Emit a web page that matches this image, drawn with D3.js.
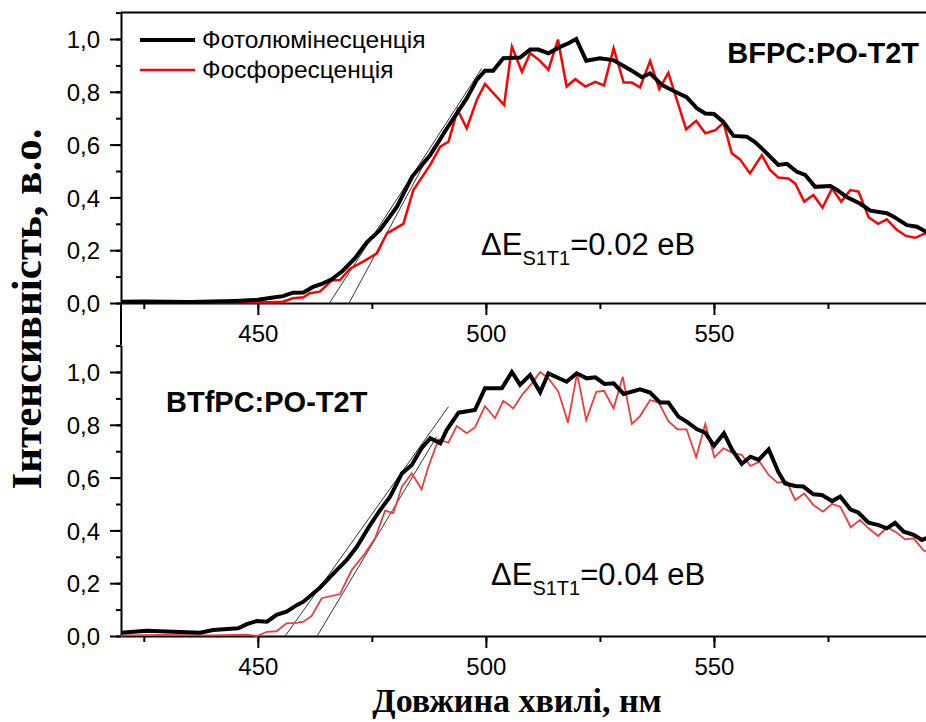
<!DOCTYPE html>
<html>
<head>
<meta charset="utf-8">
<script src="https://cdn.jsdelivr.net/npm/d3@7"></script>
<style>
  body { margin: 0; background: #fff; }
  svg { display: block; }
</style>
</head>
<body>
<div id="graph"></div>
<script>
// wavelength axis (nm)
const wavelengthDomain = [420, 600];
const wavelengthTicks = [425, 450, 475, 500, 525, 550, 575];
const wavelengthLabels = [450, 500, 550];

// intensity axis (a.u.)
const intensityDomain = [0, 1.1];
const intensityTicks = [0, 0.1, 0.2, 0.3, 0.4, 0.5, 0.6, 0.7, 0.8, 0.9, 1.0, 1.1];
const intensityLabels = [0, 0.2, 0.4, 0.6, 0.8, 1.0];

const seriesNames = ["Фотолюмінесценція", "Фосфоресценція"];
const panelTitles = ["BFPC:PO-T2T", "BTfPC:PO-T2T"];
const deltaValues = ["0.02", "0.04"];

// BFPC:PO-T2T, [nm, intensity]
const bfpcPL = [[420,0.005],[425,0.006],[430,0.005],[435,0.004],[440,0.006],[445,0.008],[448,0.01],[450,0.012],[453,0.02],[455.5,0.026],[457.7,0.039],[460,0.04],[462,0.06],[464,0.072],[466.2,0.09],[468.5,0.12],[471.3,0.17],[473.9,0.23],[476.8,0.277],[480.5,0.365],[483.8,0.478],[487.8,0.56],[491.4,0.66],[495.8,0.775],[498,0.845],[499.8,0.88],[501.6,0.88],[503.8,0.927],[507.5,0.93],[509.7,0.96],[511.5,0.96],[513.7,0.946],[516.3,0.97],[518.1,0.984],[519.8,1.0],[522,0.918],[525,0.927],[527.9,0.92],[530,0.9],[532,0.88],[534.2,0.855],[536,0.87],[538.6,0.826],[541.5,0.8],[544,0.78],[546.3,0.737],[548.1,0.718],[550,0.716],[552,0.687],[554.3,0.633],[557.2,0.63],[559,0.61],[561.6,0.567],[564.1,0.523],[566,0.527],[568.2,0.497],[570,0.485],[572.2,0.44],[575.5,0.443],[577,0.428],[579.2,0.4],[582,0.377],[584.3,0.35],[587.9,0.34],[589.4,0.327],[592.3,0.295],[594.5,0.289],[596.5,0.27],[600,0.25]];
const bfpcPhos = [[420,0.003],[425,0.005],[430,0.004],[435,0.006],[440,0.003],[445,0.004],[450,0.003],[453,0.003],[455.5,0.005],[457.7,0.018],[460,0.022],[461.4,0.037],[463.6,0.043],[466.2,0.085],[468,0.087],[470.2,0.13],[473.1,0.157],[476.1,0.188],[478.3,0.264],[481.9,0.3],[484.1,0.428],[487.8,0.523],[490,0.592],[491.8,0.611],[493.8,0.731],[495.8,0.662],[498,0.769],[499.8,0.83],[504,0.75],[505.7,0.971],[507.9,0.876],[509.7,0.946],[511.7,0.92],[513.7,0.883],[515.8,0.998],[517.7,0.82],[519.6,0.848],[521.8,0.82],[524,0.838],[525.9,0.824],[528,0.965],[530.2,0.835],[532,0.835],[533.8,0.817],[536,0.917],[538,0.81],[540,0.872],[543.9,0.658],[546.1,0.69],[548.1,0.643],[550.3,0.655],[552.1,0.683],[553.9,0.567],[555.7,0.544],[557.9,0.491],[560.5,0.56],[562.3,0.504],[564.1,0.475],[566.3,0.472],[567.8,0.453],[569.8,0.384],[571.8,0.409],[573.8,0.361],[575.9,0.434],[577.9,0.384],[579.9,0.428],[581.7,0.422],[583.9,0.325],[586,0.3],[587.9,0.317],[590.1,0.277],[592.1,0.254],[594.1,0.247],[596.3,0.264],[600,0.25]];
const bfpcTangents = [[[465.7,0],[499.1,0.889]], [[470,0],[488.5,0.592]]];

// BTfPC:PO-T2T, [nm, intensity]
const btfpcPL = [[420,0.0125],[425.6,0.02],[431.5,0.016],[437.3,0.0125],[440.2,0.023],[445.7,0.029],[447.6,0.045],[449.8,0.057],[452,0.054],[454.1,0.08],[456.3,0.092],[458.5,0.117],[460,0.13],[463.6,0.183],[466.6,0.237],[469.5,0.288],[471.7,0.338],[474.6,0.42],[476.8,0.477],[479,0.528],[481.6,0.616],[483.75,0.648],[485.9,0.711],[487.8,0.749],[490,0.73],[491.4,0.78],[494,0.846],[497.6,0.856],[499.8,0.938],[503.5,0.938],[505.7,1.0],[507.5,0.951],[509.7,0.989],[511.9,0.923],[513.7,0.995],[517.7,0.963],[519.9,0.995],[522.1,0.976],[524,0.98],[526,0.955],[528,0.957],[530.2,0.917],[533.8,0.934],[536,0.922],[538.2,0.884],[540,0.884],[542.2,0.831],[544,0.812],[546.3,0.783],[548.1,0.77],[550,0.72],[552.2,0.768],[554,0.705],[556.1,0.652],[558,0.679],[559.8,0.667],[562,0.707],[564.1,0.622],[565.6,0.578],[567.8,0.568],[569.6,0.566],[571.8,0.537],[573.7,0.534],[575.9,0.511],[577.7,0.528],[579.9,0.48],[581.7,0.467],[583.9,0.429],[586.1,0.42],[587.9,0.408],[589.7,0.429],[591.6,0.395],[593.8,0.383],[595.6,0.364],[596.5,0.37],[600,0.36]];
const btfpcPhos = [[420,0.002],[425,0.003],[430,0.004],[435,0.003],[440,0.002],[445,0.004],[447.6,0.005],[449.8,0.0],[452,0.016],[454.1,0.018],[456.3,0.048],[458.5,0.05],[460,0.054],[461.8,0.076],[464,0.143],[468,0.159],[470.6,0.25],[473.5,0.313],[475.7,0.37],[477.9,0.475],[479.7,0.465],[481.6,0.566],[483.75,0.616],[485.9,0.556],[487.4,0.641],[489.6,0.745],[491.8,0.732],[493.6,0.795],[495.8,0.768],[497.6,0.79],[499.8,0.871],[502,0.825],[503.8,0.891],[506,0.862],[507.9,0.913],[510,0.955],[511.9,1.0],[513.7,0.976],[515.9,0.925],[518,0.808],[520,0.995],[522,0.818],[524.2,0.925],[525.9,0.929],[528,0.862],[530,0.982],[532,0.803],[533.8,0.833],[536,0.894],[537.9,0.884],[540,0.814],[542,0.783],[544,0.783],[546.1,0.677],[548.1,0.803],[550.1,0.677],[552.1,0.711],[554.3,0.692],[556.1,0.686],[558,0.644],[560,0.66],[562,0.61],[563.9,0.581],[566,0.584],[567.8,0.515],[569.8,0.54],[571.8,0.496],[573.9,0.471],[575.9,0.5],[577.7,0.49],[580,0.412],[582,0.44],[583.9,0.408],[586,0.379],[588,0.412],[590.1,0.391],[591.9,0.366],[593.8,0.37],[596,0.323],[600,0.31]];
const btfpcTangents = [[[456,0],[491.8,0.869]], [[463,0],[489.2,0.755]]];

const SANS = "'Liberation Sans', Arial, sans-serif";
const SERIF = "'Liberation Serif', 'Times New Roman', serif";

const dimension = { width: 926, height: 722, left: 121, right: 942 };

const panels = [
  { pl: bfpcPL, phos: bfpcPhos, tangents: bfpcTangents, title: panelTitles[0], delta: deltaValues[0],
    bottom: 303, plotTop: 12.6, phosColor: "#ff0000", phosWidth: 2.5,
    titlePos: { x: 919, y: 63, anchor: "end" }, deltaPos: { x: 481, y: 255 }, legend: true },
  { pl: btfpcPL, phos: btfpcPhos, tangents: btfpcTangents, title: panelTitles[1], delta: deltaValues[1],
    bottom: 636, plotTop: 345.6, phosColor: "#ee3b3b", phosWidth: 1.8,
    titlePos: { x: 166, y: 412, anchor: "start" }, deltaPos: { x: 491, y: 585 }, legend: false }
];

const fmt = v => d3.format(".1f")(v).replace(".", ",");

function axisX() {
  return d3.scaleLinear().domain(wavelengthDomain).range([dimension.left, dimension.right]);
}

function axisY(panel) {
  return d3.scaleLinear().domain(intensityDomain).range([panel.bottom, panel.plotTop]);
}

function styleAxis(g) {
  g.attr("font-family", SANS).attr("font-size", 24);
  g.selectAll("path, line").attr("stroke", "#000").attr("stroke-width", 2);
  g.selectAll("text").attr("fill", "#000");
}

function drawAxes(svg, axis, panel, first) {
  // minor ticks
  svg.append("g")
    .attr("transform", `translate(0,${panel.bottom})`)
    .call(d3.axisBottom(axis.x).tickValues(wavelengthTicks).tickSize(6).tickSizeOuter(0).tickFormat(""))
    .call(styleAxis);
  svg.append("g")
    .attr("transform", `translate(0,${panel.bottom})`)
    .call(d3.axisBottom(axis.x).tickValues(wavelengthLabels).tickSize(12).tickSizeOuter(0).tickPadding(10))
    .call(styleAxis)
    .call(g => g.select(".domain").remove());

  svg.append("g")
    .attr("transform", `translate(${dimension.left},0)`)
    .call(d3.axisLeft(axis.y).tickValues(intensityTicks).tickSize(5).tickSizeOuter(0).tickFormat(""))
    .call(styleAxis);
  svg.append("g")
    .attr("transform", `translate(${dimension.left},0)`)
    .call(d3.axisLeft(axis.y).tickValues(intensityLabels).tickSize(11).tickPadding(10).tickFormat(fmt))
    .call(styleAxis)
    .call(g => g.select(".domain").remove())
    .selectAll("text").attr("dy", "0.36em");

  if (first) {
    // frame line across the top of the upper panel
    svg.append("line")
      .attr("x1", dimension.left).attr("x2", dimension.right)
      .attr("y1", axis.y(intensityDomain[1])).attr("y2", axis.y(intensityDomain[1]))
      .attr("stroke", "#000").attr("stroke-width", 2);
  } else {
    // left spine continues up to the upper panel
    svg.append("line")
      .attr("x1", dimension.left).attr("x2", dimension.left)
      .attr("y1", axis.y(intensityDomain[1])).attr("y2", panels[0].bottom)
      .attr("stroke", "#000").attr("stroke-width", 2);
  }
}

function drawPanel(svg, panel, index) {
  const axis = { x: axisX(), y: axisY(panel) };
  const line = d3.line().x(d => axis.x(d[0])).y(d => axis.y(d[1]));

  drawAxes(svg, axis, panel, index === 0);

  svg.selectAll(null)
    .data(panel.tangents)
    .enter().append("path")
    .attr("d", line)
    .attr("fill", "none")
    .attr("stroke", "#000")
    .attr("stroke-width", 0.8);

  svg.append("path")
    .datum(panel.phos)
    .attr("d", line)
    .attr("fill", "none")
    .attr("stroke", panel.phosColor)
    .attr("stroke-width", panel.phosWidth);

  svg.append("path")
    .datum(panel.pl)
    .attr("d", line)
    .attr("fill", "none")
    .attr("stroke", "#000")
    .attr("stroke-width", 4);

  svg.append("text")
    .attr("x", panel.titlePos.x).attr("y", panel.titlePos.y)
    .attr("text-anchor", panel.titlePos.anchor)
    .attr("font-family", SANS).attr("font-size", 29).attr("font-weight", "bold")
    .text(panel.title);

  const delta = svg.append("text")
    .attr("x", panel.deltaPos.x).attr("y", panel.deltaPos.y)
    .attr("font-family", SANS).attr("font-size", 31);
  delta.append("tspan").text("ΔE");
  delta.append("tspan").attr("font-size", 20).attr("dy", 10).text("S1T1");
  delta.append("tspan").attr("dy", -10).text(`=${panel.delta} eB`);

  if (panel.legend) drawLegend(svg);
}

function drawLegend(svg) {
  const items = [
    { name: seriesNames[0], color: "#000", width: 4, y: 40 },
    { name: seriesNames[1], color: "#ff0000", width: 2.5, y: 70 }
  ];
  const g = svg.append("g");
  items.forEach(item => {
    g.append("line")
      .attr("x1", 140).attr("x2", 195).attr("y1", item.y).attr("y2", item.y)
      .attr("stroke", item.color).attr("stroke-width", item.width);
    g.append("text")
      .attr("x", 202).attr("y", item.y + 8)
      .attr("font-family", SANS).attr("font-size", 24.5)
      .text(item.name);
  });
}

function draw() {
  const svg = d3.select("#graph").append("svg")
    .attr("width", dimension.width)
    .attr("height", dimension.height);

  panels.forEach((panel, i) => drawPanel(svg, panel, i));

  // axis titles
  svg.append("text")
    .attr("transform", "translate(41,309) rotate(-90)")
    .attr("text-anchor", "middle")
    .attr("font-family", SERIF).attr("font-size", 43).attr("font-weight", "bold")
    .text("Інтенсивність, в.о.");

  svg.append("text")
    .attr("x", 517).attr("y", 712)
    .attr("text-anchor", "middle")
    .attr("font-family", SERIF).attr("font-size", 34).attr("font-weight", "bold")
    .text("Довжина хвилі, нм");
}

draw();
</script>
</body>
</html>
